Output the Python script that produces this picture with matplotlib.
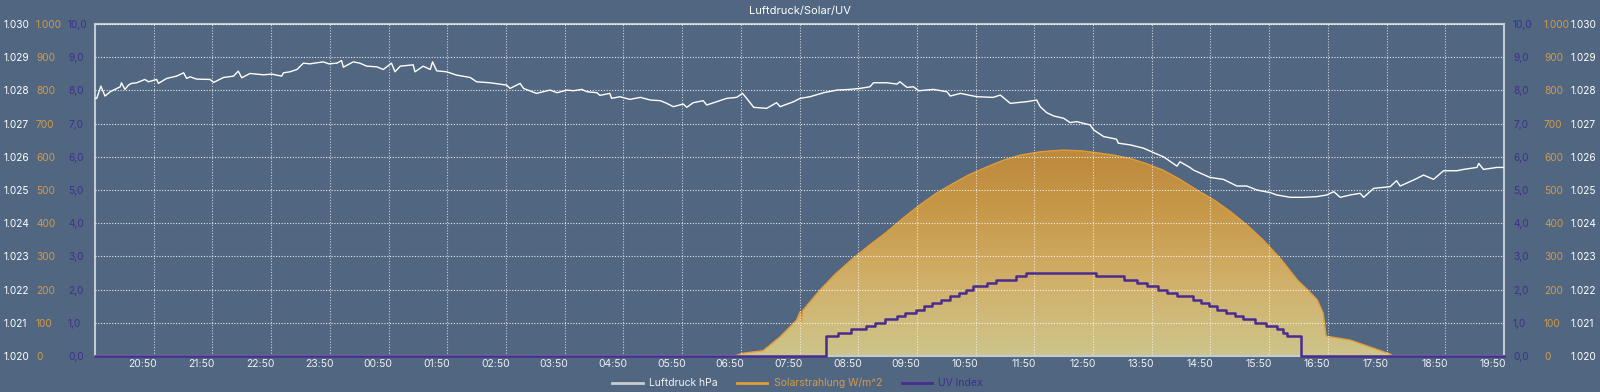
import matplotlib
matplotlib.use("Agg")
import matplotlib.pyplot as plt
import numpy as np
from matplotlib.colors import LinearSegmentedColormap
from matplotlib.lines import Line2D

plt.rcParams['font.family'] = ['Inter', 'DejaVu Sans']

# chart starts at 20:01, x values are hours since start
start_time = "20:01"
tick_labels = ["20:50", "21:50", "22:50", "23:50", "00:50", "01:50", "02:50", "03:50",
               "04:50", "05:50", "06:50", "07:50", "08:50", "09:50", "10:50", "11:50",
               "12:50", "13:50", "14:50", "15:50", "16:50", "17:50", "18:50", "19:50"]

# Luftdruck hPa
pressure_h = [0.00, 0.03, 0.10, 0.17, 0.26, 0.43, 0.45, 0.51, 0.57, 0.62, 0.71, 0.85,
              0.91, 1.05, 1.08, 1.22, 1.39, 1.51, 1.56, 1.62, 1.73, 1.96, 2.02, 2.19,
              2.36, 2.44, 2.50, 2.64, 2.87, 3.01, 3.18, 3.21, 3.32, 3.44, 3.55, 3.66,
              3.89, 3.98, 4.12, 4.20, 4.23, 4.40, 4.51, 4.63, 4.80, 4.91, 5.05, 5.11,
              5.20, 5.42, 5.45, 5.59, 5.71, 5.75, 5.82, 5.99, 6.16, 6.39, 6.50, 6.73,
              7.01, 7.07, 7.24, 7.30, 7.52, 7.75, 7.87, 8.04, 8.15, 8.29, 8.38, 8.55,
              8.60, 8.77, 8.80, 8.94, 9.11, 9.29, 9.46, 9.63, 9.74, 9.85, 10.02, 10.08,
              10.19, 10.36, 10.42, 10.59, 10.76, 10.93, 11.03, 11.10, 11.22, 11.44, 11.61, 11.67,
              11.90, 12.01, 12.18, 12.41, 12.64, 12.86, 13.03, 13.20, 13.26, 13.49, 13.66, 13.71,
              13.83, 13.94, 14.03, 14.28, 14.51, 14.57, 14.74, 15.02, 15.30, 15.42, 15.59, 15.87,
              16.04, 16.10, 16.21, 16.33, 16.50, 16.61, 16.72, 16.95, 17.01, 17.18, 17.40, 17.43,
              17.63, 17.86, 18.09, 18.20, 18.43, 18.48, 18.65, 18.71, 18.99, 19.22, 19.45, 19.62,
              19.79, 20.02, 20.13, 20.36, 20.58, 20.81, 20.98, 21.10, 21.21, 21.38, 21.55, 21.61,
              21.78, 22.06, 22.17, 22.23, 22.46, 22.63, 22.80, 22.97, 23.20, 23.31, 23.54, 23.57,
              23.65, 23.88, 24.00]
pressure_hpa = [1027.76, 1027.76, 1028.13, 1027.83, 1027.96, 1028.11, 1028.23, 1028.03, 1028.16, 1028.21, 1028.23, 1028.33,
                1028.26, 1028.33, 1028.21, 1028.36, 1028.43, 1028.53, 1028.36, 1028.41, 1028.34, 1028.33, 1028.24, 1028.39,
                1028.43, 1028.58, 1028.38, 1028.51, 1028.47, 1028.49, 1028.43, 1028.53, 1028.56, 1028.63, 1028.82, 1028.80,
                1028.86, 1028.80, 1028.82, 1028.90, 1028.70, 1028.86, 1028.82, 1028.73, 1028.71, 1028.63, 1028.82, 1028.56,
                1028.73, 1028.77, 1028.56, 1028.73, 1028.63, 1028.86, 1028.59, 1028.56, 1028.46, 1028.39, 1028.26, 1028.23,
                1028.16, 1028.06, 1028.21, 1028.06, 1027.91, 1028.01, 1027.93, 1028.01, 1027.99, 1028.03, 1027.96, 1027.93,
                1027.85, 1027.91, 1027.76, 1027.81, 1027.73, 1027.79, 1027.71, 1027.69, 1027.61, 1027.51, 1027.59, 1027.49,
                1027.63, 1027.69, 1027.56, 1027.66, 1027.76, 1027.79, 1027.91, 1027.76, 1027.49, 1027.46, 1027.63, 1027.51,
                1027.66, 1027.76, 1027.81, 1027.93, 1028.01, 1028.03, 1028.06, 1028.11, 1028.23, 1028.23, 1028.19, 1028.26,
                1028.09, 1028.11, 1027.99, 1028.03, 1027.96, 1027.83, 1027.91, 1027.81, 1027.79, 1027.86, 1027.61, 1027.66,
                1027.71, 1027.51, 1027.33, 1027.23, 1027.16, 1027.03, 1027.06, 1026.96, 1026.81, 1026.61, 1026.53, 1026.41,
                1026.36, 1026.26, 1026.08, 1026.00, 1025.72, 1025.85, 1025.68, 1025.60, 1025.38, 1025.32, 1025.12, 1025.12,
                1025.00, 1024.92, 1024.85, 1024.78, 1024.78, 1024.80, 1024.85, 1024.95, 1024.78, 1024.85, 1024.90, 1024.78,
                1025.05, 1025.10, 1025.28, 1025.12, 1025.30, 1025.45, 1025.32, 1025.58, 1025.58, 1025.62, 1025.68, 1025.80,
                1025.62, 1025.68, 1025.68]

# Solarstrahlung W/m^2
solar_h = [0.00, 10.90, 11.02, 11.38, 11.67, 11.95, 12.01, 12.03, 12.05, 12.35, 12.60, 12.91,
           13.20, 13.49, 13.77, 14.05, 14.33, 14.62, 14.90, 15.20, 15.48, 15.76, 16.10, 16.30,
           16.49, 16.80, 17.07, 17.35, 17.63, 17.90, 18.19, 18.48, 18.77, 19.06, 19.34, 19.62,
           19.90, 20.20, 20.48, 20.65, 20.82, 20.92, 20.97, 21.38, 21.77, 22.06, 22.10, 24.00]
solar_w = [0, 0, 8, 16, 58, 108, 133, 96, 136, 199, 245, 294,
           335, 374, 416, 455, 490, 520, 547, 570, 590, 605, 615, 618,
           620, 618, 612, 605, 595, 580, 560, 532, 500, 470, 435, 395,
           349, 292, 229, 200, 169, 129, 60, 48, 24, 6, 0, 0]

# UV Index (steps)
uv_h = [0.00, 12.45, 12.65, 12.87, 13.13, 13.29, 13.46, 13.66, 13.80, 13.99, 14.12, 14.25,
        14.41, 14.57, 14.72, 14.84, 14.96, 15.19, 15.35, 15.69, 15.86, 17.05, 17.53, 17.75,
        17.92, 18.11, 18.26, 18.43, 18.71, 18.84, 18.98, 19.11, 19.27, 19.42, 19.56, 19.76,
        19.95, 20.14, 20.24, 20.31, 20.54, 24.00]
uv_idx = [0.0, 0.6, 0.7, 0.8, 0.9, 1.0, 1.1, 1.2, 1.3, 1.4, 1.5, 1.6,
          1.7, 1.8, 1.9, 2.0, 2.1, 2.2, 2.3, 2.4, 2.5, 2.4, 2.3, 2.2,
          2.1, 2.0, 1.9, 1.8, 1.7, 1.6, 1.5, 1.4, 1.3, 1.2, 1.1, 1.0,
          0.9, 0.8, 0.7, 0.6, 0.0, 0.0]

pressure_ticks = list(range(1020, 1031))
solar_ticks = list(range(0, 1001, 100))
uv_ticks = list(range(0, 11))

BG = '#516680'
FRAME = '#c3c9d3'
PRESS_C = '#ffffff'
SOLAR_C = '#e39c38'
SOLAR_TXT = '#d39a4c'
UV_C = '#4a2b90'
UV_TXT = '#3f2f8e'


def hours(s):
    hh, mm = s.split(":")
    sh, sm = start_time.split(":")
    d = (int(hh) * 60 + int(mm)) - (int(sh) * 60 + int(sm))
    return (d % 1440) / 60.0


def de_num(v):
    return f"{v:,}".replace(",", ".")


fig = plt.figure(figsize=(16, 3.92), dpi=100, facecolor=BG)
ax = fig.add_axes([95 / 1600, 36 / 392, 1409 / 1600, 332 / 392])
ax.set_facecolor(BG)
ax_uv = ax.twinx()
ax_p = ax.twinx()

# solar area with vertical gradient
poly = ax.fill_between(solar_h, solar_w, 0, facecolor='none', edgecolor='none')
cmap = LinearSegmentedColormap.from_list(
    'sol', [(0, '#cdc58a'), (0.35, '#d1b06a'), (0.7, '#c79848'), (1, '#bb883c')])
grad = np.linspace(0, 1, 256).reshape(-1, 1)
im = ax.imshow(grad, extent=[0, 24, 0, 630], origin='lower', aspect='auto', cmap=cmap, zorder=1)
im.set_clip_path(poly.get_paths()[0], ax.transData)
ax.plot(solar_h, solar_w, color=SOLAR_C, lw=1.0, zorder=2)

ax.set_xlim(0, 24)
ax.set_ylim(0, 1000)
ax.set_xticks([hours(t) for t in tick_labels])
ax.set_xticklabels(tick_labels)
ax.set_xticks(range(1, 25), minor=True)
ax.tick_params(axis='x', which='both', length=0, colors='#eef0f4', labelsize=7.5, pad=2.5)
ax.set_axisbelow(False)
ax.grid(True, axis='y', which='major', color='white', ls=(0, (1, 1.5)), lw=0.8, alpha=0.85)
ax.grid(True, axis='x', which='minor', color='white', ls=(0, (1, 1.5)), lw=0.8, alpha=0.7)
ax.grid(False, axis='x', which='major')
for sp in ax.spines.values():
    sp.set_color(FRAME)
    sp.set_linewidth(1.5)

# UV
ax_uv.step(uv_h, uv_idx, where='post', color=UV_C, lw=1.8, clip_on=False, zorder=3)
ax_uv.set_ylim(0, 10)

# pressure
ax_p.plot(pressure_h, pressure_hpa, color=PRESS_C, lw=1.0, zorder=4)
ax_p.set_ylim(1020, 1030)

axes_info = [
    (ax_p, pressure_ticks, [de_num(v) for v in pressure_ticks], PRESS_C, 65.5, 48.2),
    (ax, solar_ticks, [de_num(v) for v in solar_ticks], SOLAR_TXT, 42.5, 28.8),
    (ax_uv, uv_ticks, [f"{v:.1f}".replace(".", ",") for v in uv_ticks], UV_TXT, 19.4, 6.5),
]
for a, ticks, labels, col, lpad, rpad in axes_info:
    if a is not ax:
        for sp in a.spines.values():
            sp.set_visible(False)
    a.yaxis.set_ticks_position('left')
    a.set_yticks(ticks)
    a.set_yticklabels(labels)
    a.tick_params(axis='y', length=0, pad=lpad, labelcolor=col, labelsize=7.3)
    for t in a.yaxis.get_major_ticks():
        t.label1.set_horizontalalignment('left')
    sec = a.secondary_yaxis('right')
    sec.set_yticks(ticks)
    sec.set_yticklabels(labels)
    sec.tick_params(axis='y', length=0, pad=rpad, labelcolor=col, labelsize=7.3)
    for sp in sec.spines.values():
        sp.set_visible(False)

fig.text(0.5, 1 - 11 / 392, 'Luftdruck/Solar/UV', ha='center', va='center',
         color='white', fontsize=8)

handles = [Line2D([], [], color='#c9ccd3', lw=2),
           Line2D([], [], color=SOLAR_C, lw=2),
           Line2D([], [], color=UV_C, lw=2)]
fig.legend(handles, ['Luftdruck hPa', 'Solarstrahlung W/m^2', 'UV Index'],
           loc='center', bbox_to_anchor=(0.4985, 1 - 383 / 392), ncol=3, frameon=False,
           fontsize=7.5, handlelength=2.9, handletextpad=0.6, columnspacing=1.9,
           labelcolor=['#f2f2f2', SOLAR_TXT, UV_TXT])

fig.savefig('out.png', dpi=100, facecolor=BG)
